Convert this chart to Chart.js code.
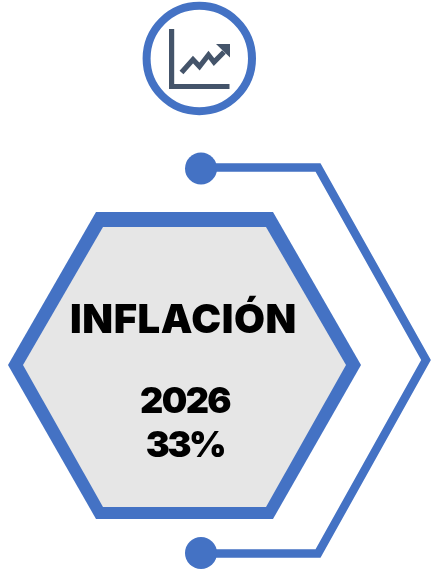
<!DOCTYPE html>
<html><head><meta charset="utf-8">
<script src="https://cdn.jsdelivr.net/npm/chart.js@4"></script>
<style>html,body{margin:0;padding:0;background:#fff}canvas{display:block}</style>
</head><body><canvas id="c" width="431" height="571"></canvas>
<script>
const hexOuterX=[96,273,361,273,96,8,96];
const hexOuterY=[212,212,365,519,519,365,212];
const hexInnerX=[103,266,346,266,103,23,103];
const hexInnerY=[227,227,365,507,507,365,227];
const connectorX=[201,318,426,318,201];
const connectorY=[167.5,167.5,360,553.5,553.5];
const knobX=[201,201];
const knobY=[168.5,553];
const ringX=[199.3];
const ringY=[58.5];
const axisX=[171.6,171.6,229.5];
const axisY=[29,86.5,86.5];
const trendX=[181.5,193,199.5,208.5,214,224];
const trendY=[72.5,59.5,66.5,55,62,52];
const headX=[216,230,230,216];
const headY=[44,44,57.5,44];
const labels=["INFLACIÓN","2026","33%"];
const labelX=[183.5,185,185];
const labelY=[333,413,457];
const labelSize=[40,36,36];
const labelTrack=[0.6,-1.6,-2.4];

const pts=(xs,ys)=>xs.map((x,i)=>({x,y:ys[i]}));
const BLUE="#4472C4",GREY="#E6E6E6",SLATE="#44546A";
const base={showLine:true,tension:0,pointRadius:0,pointHoverRadius:0,borderWidth:0,clip:false,borderJoinStyle:"miter",borderCapStyle:"butt"};
const poly=(xs,ys,color,order)=>({...base,data:pts(xs,ys),fill:"shape",backgroundColor:color,borderColor:color,order});
const path=(xs,ys,color,w,order)=>({...base,data:pts(xs,ys),fill:false,borderColor:color,borderWidth:w,order});

const textPlugin={id:"textPlugin",afterDatasetsDraw(chart){
  const {ctx,scales:{x,y}}=chart;
  ctx.save();ctx.fillStyle="#000";ctx.textAlign="center";ctx.textBaseline="alphabetic";
  labels.forEach((t,i)=>{ctx.font=`900 ${labelSize[i]}px Inter`;ctx.letterSpacing=labelTrack[i]+"px";ctx.fillText(t,x.getPixelForValue(labelX[i]),y.getPixelForValue(labelY[i]));});
  ctx.restore();
}};

new Chart(document.getElementById("c"),{
  type:"scatter",
  data:{datasets:[
    poly(hexOuterX,hexOuterY,BLUE,9),
    poly(hexInnerX,hexInnerY,GREY,8),
    path(connectorX,connectorY,BLUE,8.5,7),
    {...base,showLine:false,data:pts(knobX,knobY),pointRadius:16,backgroundColor:BLUE,borderColor:BLUE,order:6},
    {...base,showLine:false,data:pts(ringX,ringY),pointRadius:52.7,pointBackgroundColor:"#fff",pointBorderColor:BLUE,pointBorderWidth:8,order:5},
    path(axisX,axisY,SLATE,5.2,4),
    path(trendX,trendY,SLATE,5.2,3),
    poly(headX,headY,SLATE,2)
  ]},
  options:{
    responsive:false,animation:false,
    layout:{padding:0,autoPadding:false},
    events:[],
    plugins:{legend:{display:false},tooltip:{enabled:false}},
    scales:{
      x:{type:"linear",min:0,max:431,display:false},
      y:{type:"linear",min:0,max:571,reverse:true,display:false}
    }
  },
  plugins:[textPlugin]
});
</script></body></html>
